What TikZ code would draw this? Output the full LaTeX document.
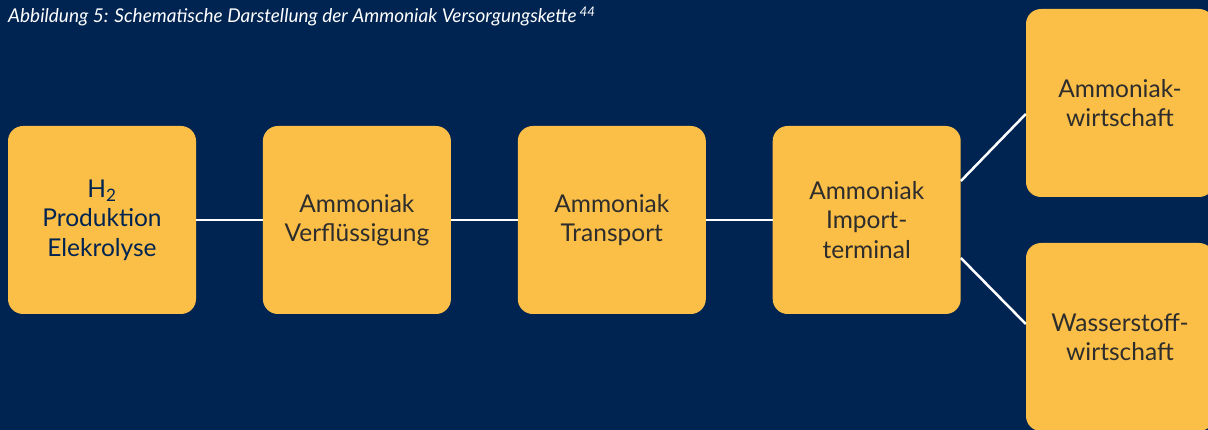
\documentclass[tikz,border=0pt]{standalone}
\usepackage{fontspec}
\setmainfont{Lato}
\usetikzlibrary{positioning}
\definecolor{navy}{RGB}{0,36,82}
\definecolor{gold}{RGB}{251,190,70}
\definecolor{ink}{RGB}{45,45,45}
\tikzset{
    stage/.style={fill=gold, rounded corners=15pt, minimum width=188pt, minimum height=188pt,
        inner sep=0pt, align=center, text=ink, font=\fontsize{24.5}{29.5}\selectfont},
    link/.style={white, line width=2.5pt}
}
\begin{document}
\begin{tikzpicture}[x=1pt,y=-1pt]
        \useasboundingbox (0,0) rectangle (1208,430);
        \fill[navy] (0,0) rectangle (1208,430);
        \clip (0,0) rectangle (1208,430);
        \node[anchor=base west, inner sep=0pt, text=white, font=\itshape\fontsize{19}{22}\selectfont] (title) at (8,23)
            {Abbildung 5: Schematische Darstellung der Ammoniak Versorgungskette\,\textsuperscript{44}};
        \node[stage, text=navy] (prod) at (102,220) {H\textsubscript{2}\\Produktion\\Elekrolyse};
        \node[stage, right=66.5pt of prod] (verf) {Ammoniak\\Verflüssigung};
        \node[stage, right=66.5pt of verf] (trans) {Ammoniak\\Transport};
        \node[stage, right=66.5pt of trans] (imp) {Ammoniak\\Import-\\terminal};
        \node[stage] (nh3) at (1120,103) {Ammoniak-\\wirtschaft};
        \node[stage] (hh) at (1120,337) {Wasserstoff-\\wirtschaft};
        \foreach \a/\b in {prod/verf, verf/trans, trans/imp} {
            \draw[link] (\a) -- (\b);
        }
        \draw[link] ([yshift=39pt]imp.east) -- ([yshift=-11pt]nh3.west);
        \draw[link] ([yshift=-38pt]imp.east) -- ([yshift=13pt]hh.west);
    \end{tikzpicture}
\end{document}
